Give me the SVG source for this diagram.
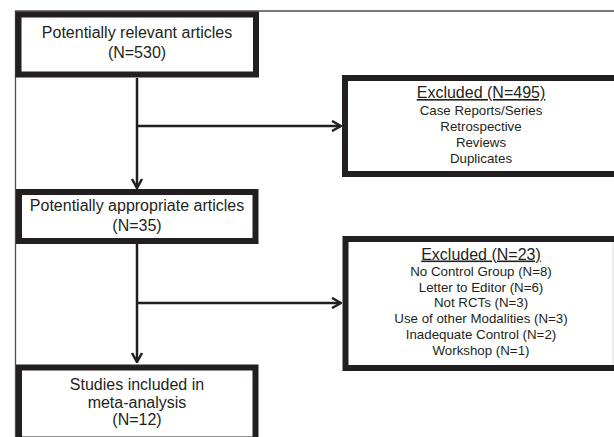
<svg xmlns="http://www.w3.org/2000/svg" width="614" height="437" viewBox="0 0 614 437">
<defs>
<style>
.box{fill:#fff;stroke:#231f20;stroke-width:6;stroke-linejoin:miter}
.frame{fill:none;stroke:#4d4d4d;stroke-width:1.3}
.t{font-family:"Liberation Sans",Arial,sans-serif;fill:#231f20;text-anchor:middle}
.h{font-size:16px}
.b{font-size:13.3px}
.u{text-decoration:underline}
.c{fill:none;stroke:#231f20;stroke-width:2.5}
</style>
<marker id="arr" viewBox="0 0 12 12" refX="11" refY="6" markerWidth="12" markerHeight="12" markerUnits="userSpaceOnUse" orient="auto">
<path d="M2,1 L11,6 L2,11" fill="none" stroke="#231f20" stroke-width="2.5"/>
</marker>
</defs>
<rect width="614" height="437" fill="#fff"/>
<path class="frame" d="M15.5,437 V11 H614"/>
<g id="connectors">
<path class="c" d="M137,78 V188" marker-end="url(#arr)"/>
<path class="c" d="M137,126 H341" marker-end="url(#arr)"/>
<path class="c" d="M137,244 V362" marker-end="url(#arr)"/>
<path class="c" d="M137,303 H341" marker-end="url(#arr)"/>
</g>
<g id="n1">
<rect class="box" x="18.5" y="14.5" width="237.5" height="60"/>
<text class="t h" x="137" y="38">Potentially relevant articles</text>
<text class="t h" x="137" y="58">(N=530)</text>
</g>
<g id="n2">
<rect class="box" x="345" y="78" width="300" height="96"/>
<text class="t h u" x="481" y="98">Excluded (N=495)</text>
<text class="t b" x="481" y="114.5">Case Reports/Series</text>
<text class="t b" x="481" y="130.5">Retrospective</text>
<text class="t b" x="481" y="146.5">Reviews</text>
<text class="t b" x="481" y="162.5">Duplicates</text>
</g>
<g id="n3">
<rect class="box" x="19" y="192" width="236.5" height="49"/>
<text class="t h" x="137" y="211">Potentially appropriate articles</text>
<text class="t h" x="137" y="231">(N=35)</text>
</g>
<g id="n4">
<rect class="box" x="345.5" y="239" width="300" height="129"/>
<line x1="613" y1="242" x2="613" y2="365" stroke="#dcdcdc" stroke-width="1"/>
<text class="t h u" x="481" y="259.5">Excluded (N=23)</text>
<text class="t b" x="481" y="275.5">No Control Group (N=8)</text>
<text class="t b" x="481" y="291.5">Letter to Editor (N=6)</text>
<text class="t b" x="481" y="307">Not RCTs (N=3)</text>
<text class="t b" x="481" y="323">Use of other Modalities (N=3)</text>
<text class="t b" x="481" y="338.5">Inadequate Control (N=2)</text>
<text class="t b" x="481" y="354.5">Workshop (N=1)</text>
</g>
<g id="n5">
<rect class="box" x="19" y="367.5" width="236.5" height="72"/>
<text class="t h" x="137" y="390">Studies included in</text>
<text class="t h" x="137" y="407.5">meta-analysis</text>
<text class="t h" x="137" y="424.5">(N=12)</text>
</g>
</svg>
